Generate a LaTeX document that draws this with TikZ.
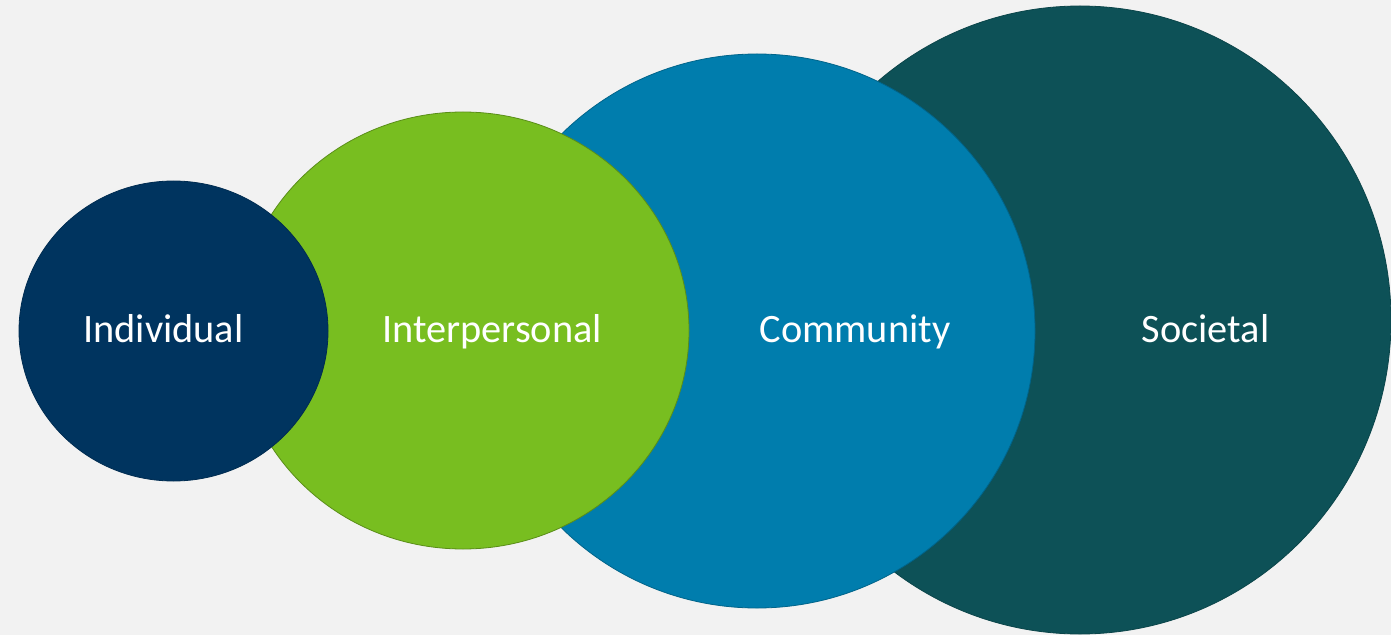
\documentclass[tikz,border=0pt]{standalone}
\usepackage{fontspec}
\setmainfont{Carlito}
\usetikzlibrary{positioning,shapes.geometric}

\definecolor{navyind}{HTML}{00345F}
\definecolor{greeninter}{HTML}{78BE20}
\definecolor{bluecomm}{HTML}{007DAD}
\definecolor{tealsoc}{HTML}{0D5157}
\definecolor{bggray}{HTML}{F2F2F2}

\begin{document}
\begin{tikzpicture}[
        x=1bp, y=-1bp,
        % Style for the levels: filled ellipse, thin darker rim
        ring/.style={
            ellipse,
            inner sep=0pt,
            outer sep=0pt,
            line width=0.8bp
        },
        % Style for the labels: white text
        ringlabel/.style={
            text=white,
            inner sep=0pt,
            anchor=base,
            font=\fontsize{40.5}{48}\selectfont
        }
    ]

        % --- BACKGROUND ---
        \fill[bggray] (0,0) rectangle (1391,635);
        \useasboundingbox (0,0) rectangle (1391,635);

        % --- LEVELS (back to front) ---
        \node[ring, fill=tealsoc, draw=tealsoc!85!black,
              minimum width=622bp, minimum height=628bp] (soc) at (1080,320) {};
        \node[ring, fill=bluecomm, draw=bluecomm!80!black,
              minimum width=556bp, minimum height=554bp] (comm) at (757,331) {};
        \node[ring, fill=greeninter, draw=greeninter!75!black,
              minimum width=452bp, minimum height=437bp] (inter) at (463,330.5) {};
        \node[ring, fill=navyind, draw=navyind!85!black,
              minimum width=309bp, minimum height=300bp] (ind) at (173.5,331) {};

        % --- LABELS ---
        \node[ringlabel] (lind) at (163.5,342) {Individual};
        \node[ringlabel] (linter) at (492,342) {Interpersonal};
        \node[ringlabel] (lcomm) at (855,342) {Community};
        \node[ringlabel] (lsoc) at (1205.5,342) {Societal};

    \end{tikzpicture}
\end{document}
